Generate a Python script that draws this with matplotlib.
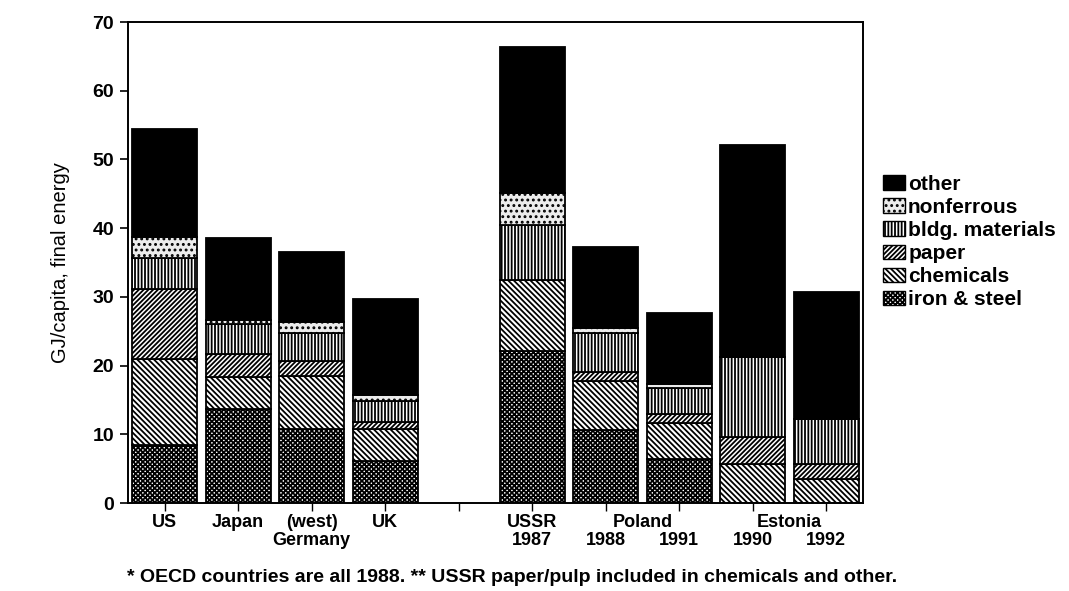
import matplotlib
matplotlib.use("Agg")
import matplotlib.pyplot as plt
from matplotlib.patches import Patch
import numpy as np

plt.rcParams["font.family"] = ["Liberation Sans", "DejaVu Sans"]
plt.rcParams["font.weight"] = "bold"
plt.rcParams["hatch.linewidth"] = 1.3

# Final energy use by industry, GJ per capita
row1_labels = ["US", "Japan", "(west)", "UK", "USSR", "", "", "", ""]
row2_labels = ["", "", "Germany", "", "1987", "1988", "1991", "1990", "1992"]
iron_steel = [8.4, 13.7, 10.8, 6.1, 22.1, 10.6, 6.4, 0.0, 0.0]
chemicals = [12.6, 4.6, 7.7, 4.6, 10.4, 7.2, 5.2, 5.7, 3.5]
paper = [10.2, 3.4, 2.2, 1.1, 0.0, 1.3, 1.3, 3.9, 2.2]
bldg_materials = [4.5, 4.3, 4.1, 3.1, 8.0, 5.6, 3.8, 11.6, 6.5]
nonferrous = [3.0, 0.6, 1.6, 0.8, 4.6, 0.7, 0.6, 0.0, 0.0]
other = [15.8, 12.0, 10.1, 14.0, 21.3, 11.9, 10.4, 30.9, 18.5]

series = [
    ("iron & steel", iron_steel, "white", "x" * 7),
    ("chemicals", chemicals, "white", "\\" * 6),
    ("paper", paper, "white", "/" * 7),
    ("bldg. materials", bldg_materials, "white", "|" * 5),
    ("nonferrous", nonferrous, "#ececec", "..."),
    ("other", other, "black", None),
]

# one empty slot separates the OECD group from the eastern group
slots = np.arange(len(row1_labels) + 1)
x = np.delete(slots, 4)

fig = plt.figure(figsize=(10.69, 5.91), dpi=100)
ax = fig.add_axes([128 / 1069, 1 - 503 / 591, (863 - 128) / 1069, (503 - 22) / 591])

bottom = np.zeros(len(x))
handles = []
for name, vals, face, hatch in series:
    vals = np.asarray(vals, dtype=float)
    ax.bar(x, vals, width=0.88, bottom=bottom, color=face, edgecolor="black",
           linewidth=1.3, hatch=hatch, zorder=2)
    bottom += vals
    handles.append(Patch(facecolor=face, edgecolor="black", hatch=hatch,
                         linewidth=1.0, label=name))

ax.set_xlim(-0.5, 9.5)
ax.set_ylim(0, 70)
ax.set_yticks(np.arange(0, 71, 10))
ax.set_xticks(slots)
ax.set_xticklabels([])
ax.tick_params(axis="y", labelsize=14, length=6, width=1.2, direction="out", pad=4)
ax.tick_params(axis="x", length=6, width=1.0, direction="out")
for s in ax.spines.values():
    s.set_linewidth(1.4)

# two rows of category labels under the axis
xt = ax.get_xaxis_transform()
for xi, a, b in zip(x, row1_labels, row2_labels):
    if a:
        ax.text(xi, -0.022, a, transform=xt, ha="center", va="top", fontsize=13)
    if b:
        ax.text(xi, -0.060, b, transform=xt, ha="center", va="top", fontsize=13)
ax.text((x[5] + x[6]) / 2, -0.022, "Poland", transform=xt, ha="center", va="top", fontsize=13)
ax.text((x[7] + x[8]) / 2, -0.022, "Estonia", transform=xt, ha="center", va="top", fontsize=13)

ax.set_ylabel("GJ/capita, final energy", fontsize=14.5, labelpad=16, fontweight="normal")

leg = ax.legend(handles[::-1], [h.get_label() for h in handles[::-1]],
                loc="upper left", bbox_to_anchor=(1.016, 0.70), frameon=False,
                fontsize=15, handlelength=1.05, handleheight=0.7,
                handletextpad=0.15, labelspacing=0.2, borderaxespad=0)

fig.text(0.479, 0.022, "* OECD countries are all 1988. ** USSR paper/pulp included in chemicals and other.",
         ha="center", va="center", fontsize=14)

fig.savefig("out.png", dpi=100)
